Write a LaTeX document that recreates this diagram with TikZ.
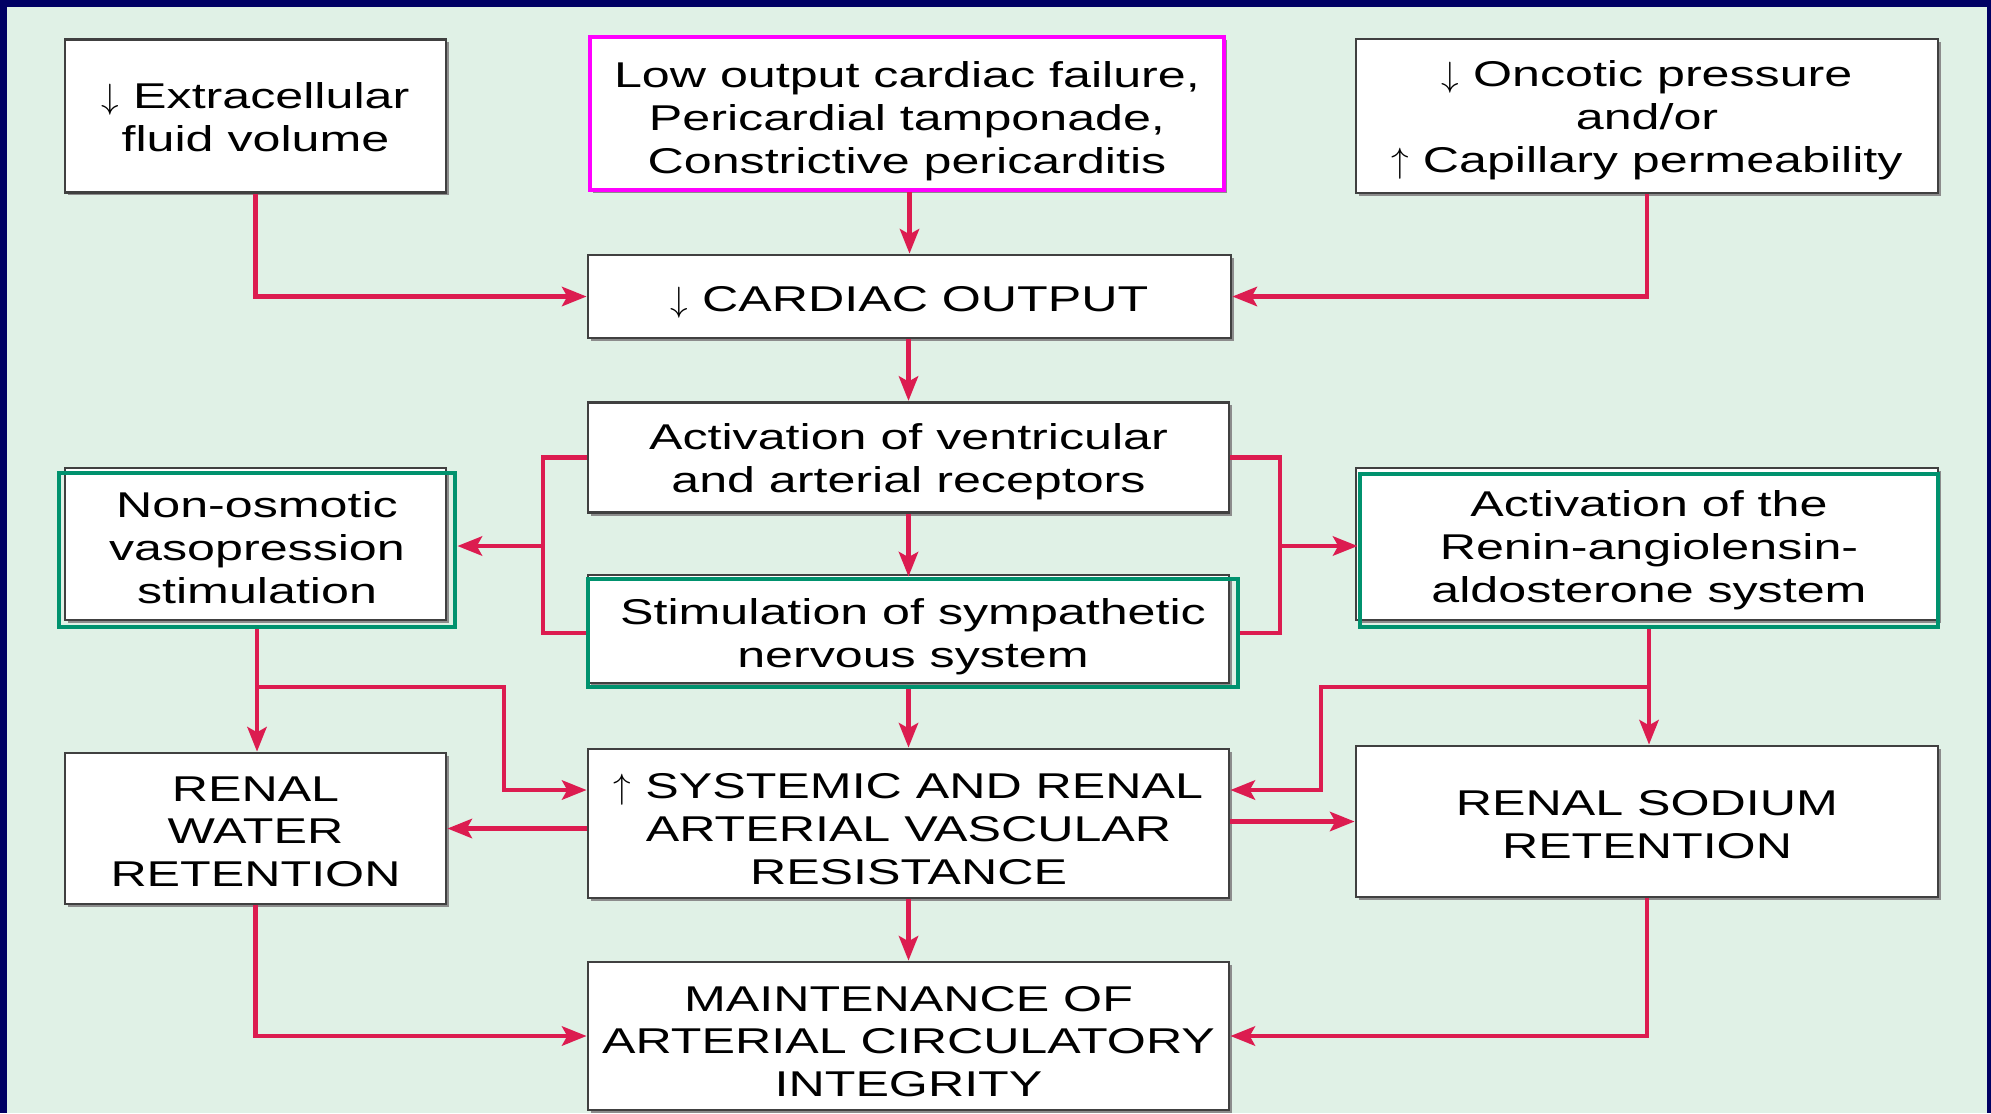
\documentclass[tikz,border=0pt]{standalone}
\usepackage{fontspec}
\setmainfont{Liberation Sans}[FakeStretch=1.4]
\usepackage{xcolor}
\usepackage{tikz}
\usetikzlibrary{arrows.meta}
\usetikzlibrary{shadows}
\definecolor{navyframe}{RGB}{0,0,100}
\definecolor{mint}{RGB}{224,241,230}
\definecolor{crimson}{RGB}{220,28,80}
\definecolor{teal_hl}{RGB}{0,146,110}
\definecolor{pink_hl}{RGB}{255,0,255}
%% invisible struts: push the text down (first line) or up (last line)
\newcommand{\pushtxt}[1]{\rule{0pt}{#1}}
\newcommand{\liftxt}[1]{\rule[-#1]{0pt}{#1}}
\tikzset{
every picture/.style={line width=0.8pt, >={Stealth[length=7pt,width=5.5pt,inset=1.5pt]}},
%%%%%%%%%%  Node styles
box/.style={draw=black!75, fill=white, line width=0.8pt, align=center, inner sep=0pt,
            drop shadow={shadow xshift=0.8pt, shadow yshift=-0.8pt, fill=black!45, opacity=1},
            font=\fontsize{10.2}{12.2}\selectfont},
hl_box/.style={draw=teal_hl, line width=1.4pt, align=center, inner sep=0pt,
            font=\fontsize{10.2}{12.2}\selectfont},
pink_box/.style={box, draw=pink_hl, line width=1.4pt},
%%%%%%%%%%  line styles
link/.style={draw=crimson, line width=1.2pt}
}

\begin{document}
\begin{tikzpicture}
\useasboundingbox (0,0) rectangle (19.91,-11.13);
%%background
\fill[navyframe] (0,0) rectangle (19.91,-11.13);
\fill[mint] (0.07,-0.073) rectangle (19.87,-11.13);
%%top row
\node[box, minimum width=3.81cm, minimum height=1.53cm] (ecf) at (2.555,-1.16)
	{\pushtxt{8.2pt}$\downarrow$ Extracellular\\fluid volume};
\node[pink_box, minimum width=6.34cm, minimum height=1.53cm] (low) at (9.07,-1.135)
	{\pushtxt{11.8pt}Low output cardiac failure,\\Pericardial tamponade,\\Constrictive pericarditis};
\node[box, minimum width=5.82cm, minimum height=1.54cm] (onc) at (16.47,-1.16)
	{\pushtxt{10pt}$\downarrow$ Oncotic pressure\\and/or\\$\uparrow$ Capillary permeability};
%%centre column
\node[box, minimum width=6.43cm, minimum height=0.83cm] (co) at (9.095,-2.965)
	{\pushtxt{10.3pt}$\downarrow$ CARDIAC OUTPUT};
\node[box, minimum width=6.41cm, minimum height=1.105cm] (rec) at (9.085,-4.575)
	{\pushtxt{10pt}Activation of ventricular\\and arterial receptors};
%%highlighted boxes (gray box under a green frame)
\node[box, minimum width=3.81cm, minimum height=1.52cm] (nonosm_bg) at (2.555,-5.44) {};
\node[hl_box, minimum width=3.96cm, minimum height=1.54cm] (nonosm) at (2.57,-5.50)
	{Non-osmotic\\vasopression\\stimulation\liftxt{1.45pt}};
\node[box, minimum width=6.41cm, minimum height=1.08cm] (stim_bg) at (9.085,-6.29) {};
\node[hl_box, minimum width=6.50cm, minimum height=1.08cm] (stim) at (9.13,-6.33)
	{\pushtxt{9.6pt}Stimulation of sympathetic\\nervous system};
\node[box, minimum width=5.82cm, minimum height=1.52cm] (renin_bg) at (16.47,-5.44) {};
\node[hl_box, minimum width=5.78cm, minimum height=1.53cm] (renin) at (16.49,-5.505)
	{Activation of the\\Renin-angiolensin-\\aldosterone system};
%%lower rows
\node[box, minimum width=3.81cm, minimum height=1.51cm] (water) at (2.555,-8.285)
	{\pushtxt{8.9pt}RENAL\\WATER\\RETENTION};
\node[box, minimum width=6.41cm, minimum height=1.49cm] (sys) at (9.085,-8.235)
	{\pushtxt{10.3pt}$\uparrow$ SYSTEMIC AND RENAL\\ARTERIAL VASCULAR\\RESISTANCE};
\node[box, minimum width=5.82cm, minimum height=1.51cm] (sodium) at (16.47,-8.215)
	{\pushtxt{8.9pt}RENAL SODIUM\\RETENTION};
\node[box, minimum width=6.41cm, minimum height=1.48cm] (maint) at (9.085,-10.36)
	{\pushtxt{10.3pt}MAINTENANCE OF\\ARTERIAL CIRCULATORY\\INTEGRITY};
%%into cardiac output
\draw[link,->] (ecf.south) |- (co.west);
\draw[link,->] (co.north |- low.south) -- (co.north);
\draw[link,->] (onc.south) |- (co.east);
\draw[link,->] (rec.north |- co.south) -- (rec.north);
\draw[link,->] (rec.south) -- (rec.south |- stim.north);
%%brackets
\coordinate (lb) at (5.43,-5.46);
\draw[link] (rec.west) -| (lb) |- (stim.west);
\draw[link,->] (lb) -- (lb -| nonosm.east);
\coordinate (rb) at (12.80,-5.46);
\draw[link] (rec.east) -| (rb) |- (stim.east);
\draw[link,->] (rb) -- (rb -| renin.west);
%%vasopression branch
\draw[link,->] (nonosm.south) -- (nonosm.south |- water.north);
\coordinate (ls) at (nonosm.south |- 0,-6.87);
\coordinate (lt) at (5.04,-6.87);
\draw[link,->] (ls) -- (lt) |- ([yshift=0.335cm]sys.west);
%%renin branch
\draw[link,->] (renin.south) -- (renin.south |- sodium.north);
\coordinate (rs) at (renin.south |- 0,-6.87);
\coordinate (rt) at (13.21,-6.87);
\draw[link,->] (rs) -- (rt) |- ([yshift=0.335cm]sys.east);
%%resistance
\draw[link,->] (stim.south -| sys.north) -- (sys.north);
\draw[link,->] (sys.west |- water.east) -- (water.east);
\draw[link,->] (sys.east |- sodium.west) -- (sodium.west);
\draw[link,->] (sys) -- (maint);
%%into maintenance
\draw[link,->] (water.south) |- (maint.west);
\draw[link,->] (sodium.south) |- (maint.east);
\end{tikzpicture}
\end{document}
